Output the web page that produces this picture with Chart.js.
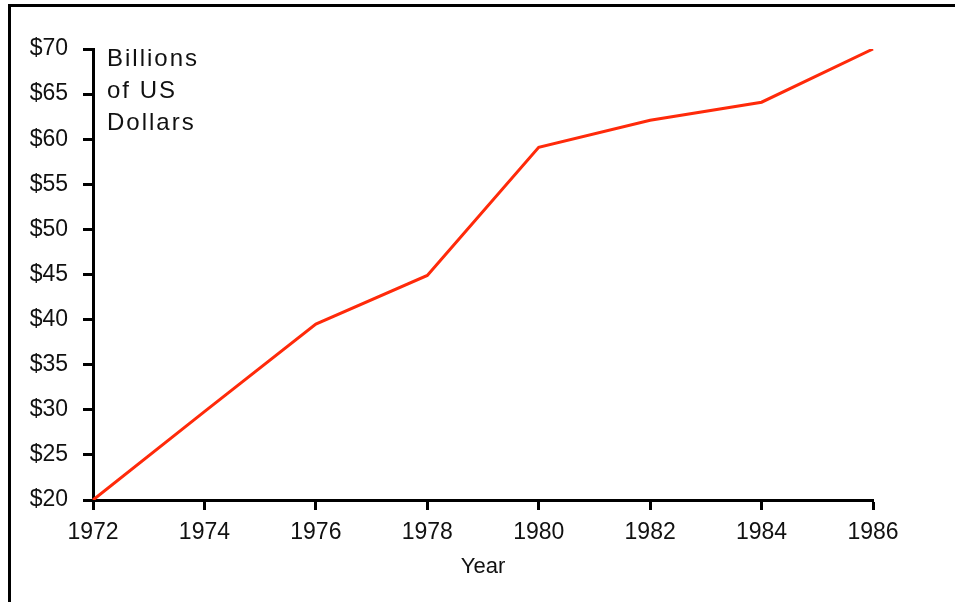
<!DOCTYPE html>
<html>
<head>
<meta charset="utf-8">
<script src="https://cdn.jsdelivr.net/npm/chart.js@4/dist/chart.umd.min.js"></script>
<style>
  html, body { margin: 0; padding: 0; background: #fff; }
  #wrap { position: relative; width: 955px; height: 602px; overflow: hidden; }
  #frame { position: absolute; left: 8px; top: 4px; right: -10px; bottom: -10px;
           border-left: 3px solid #000; border-top: 3px solid #000; pointer-events: none; }
  canvas { position: absolute; left: 0; top: 0; }
</style>
</head>
<body>
<div id="wrap">
  <canvas id="c" width="955" height="602"></canvas>
  <div id="frame"></div>
</div>
<script>
// Spending in billions of US dollars, every second year
const years = ['1972', '1974', '1976', '1978', '1980', '1982', '1984', '1986'];
const spending = [20, 29.8, 39.5, 44.9, 59.1, 62.1, 64.1, 70];
const unitLines = ['Billions', 'of US', 'Dollars'];
const axisTitle = 'Year';

const FONT = 'Liberation Sans';

// Writes the unit caption in the upper-left corner of the plot area
const unitCaption = {
  id: 'unitCaption',
  afterDraw(chart) {
    const { ctx, chartArea } = chart;
    ctx.save();
    ctx.fillStyle = '#111';
    ctx.font = '24px "' + FONT + '"';
    ctx.textAlign = 'left';
    ctx.textBaseline = 'alphabetic';
    if ('letterSpacing' in ctx) ctx.letterSpacing = '2px';
    unitLines.forEach((t, i) => {
      ctx.fillText(t, chartArea.left + 14, chartArea.top + 17 + i * 32);
    });
    ctx.restore();
  }
};

new Chart(document.getElementById('c'), {
  type: 'line',
  data: {
    labels: years,
    datasets: [{
      data: spending,
      borderColor: '#ff2a0a',
      borderWidth: 3,
      pointRadius: 0,
      tension: 0,
      fill: false
    }]
  },
  options: {
    responsive: false,
    animation: false,
    layout: { padding: { left: 0, top: 49, right: 82, bottom: 18 } },
    plugins: { legend: { display: false }, tooltip: { enabled: false } },
    scales: {
      x: {
        type: 'category',
        offset: false,
        grid: { drawOnChartArea: false, drawTicks: true, tickLength: 10, tickColor: '#000', tickWidth: 3 },
        border: { display: true, color: '#000', width: 3 },
        ticks: { color: '#111', font: { family: FONT, size: 23 }, padding: 9, maxRotation: 0, autoSkip: false },
        title: { display: true, text: axisTitle, color: '#111', font: { family: FONT, size: 22 }, padding: 4 },
        afterFit(s) { s.height = 84; }
      },
      y: {
        min: 20,
        max: 70,
        grid: { drawOnChartArea: false, drawTicks: true, tickLength: 10, tickColor: '#000', tickWidth: 3 },
        border: { display: true, color: '#000', width: 3 },
        ticks: { stepSize: 5, color: '#111', font: { family: FONT, size: 23 }, padding: 15,
                 callback: v => '$' + v },
        afterFit(s) { s.width = 93; }
      }
    }
  },
  plugins: [unitCaption]
});
</script>
</body>
</html>
